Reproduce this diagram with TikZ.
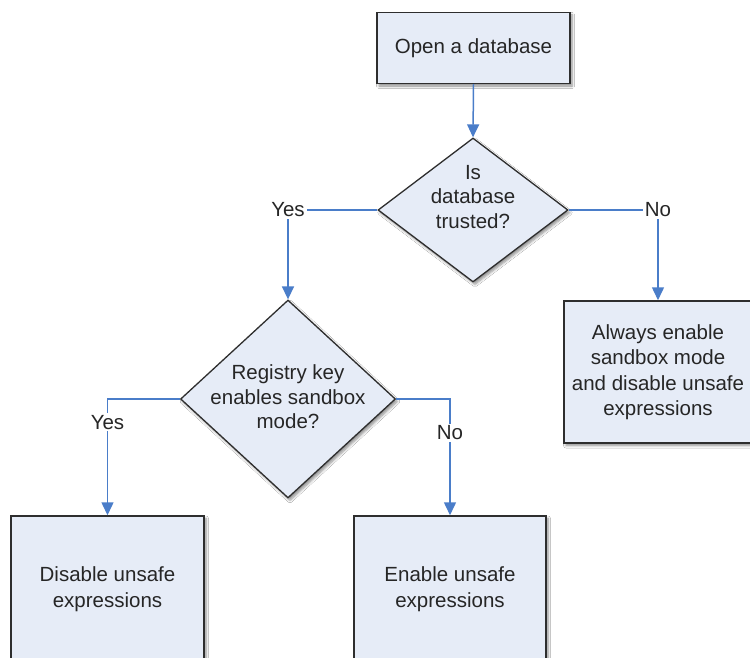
\documentclass[tikz,border=0pt]{standalone}
\usepackage{fontspec}
\setmainfont{Liberation Sans}
\usetikzlibrary{shapes.geometric,arrows.meta,shadows.blur}
\definecolor{boxfill}{HTML}{E6ECF7}
\definecolor{boxline}{HTML}{2E2E2E}
\definecolor{arrblue}{HTML}{4A7DC9}
\definecolor{txt}{HTML}{262626}
\tikzset{
  shade/.style={blur shadow={shadow xshift=2pt,shadow yshift=-2.5pt,shadow blur steps=6,shadow blur radius=2.5pt,shadow opacity=45}},
  procbox/.style={draw=boxline,line width=1.5pt,fill=boxfill,shade,inner sep=0pt,align=center,text=txt,
    font=\fontsize{20.5}{25.5}\selectfont},
  decision/.style={diamond,draw=boxline,line width=1.3pt,fill=boxfill,shade,inner sep=0pt},
  dtext/.style={align=center,text=txt,font=\fontsize{20.5}{24.5}\selectfont,inner sep=0pt},
  conn/.style={draw=arrblue,line width=1.5pt,-{Triangle[width=12pt,length=13pt]}},
  lbl/.style={fill=white,inner sep=2pt,text=txt,font=\fontsize{20.5}{24.5}\selectfont}
}
\begin{document}
\begin{tikzpicture}[x=1pt,y=-1pt]
\clip (0,0) rectangle (750,658);
\fill[white] (0,0) rectangle (750,658);
% nodes
\node[procbox,minimum width=193pt,minimum height=71pt] (b1) at (473.5,48) {Open a database};
\node[decision,minimum width=190pt,minimum height=144pt] (d1) at (473,210) {};
\node[dtext] (d1t) at (473,197) {Is\\database\\trusted?};
\node[decision,minimum width=215pt,minimum height=198pt] (d2) at (288,399) {};
\node[dtext] (d2t) at (288,397) {Registry key\\enables sandbox\\mode?};
\node[procbox,minimum width=188pt,minimum height=142pt] (b3) at (658,372) {Always enable\\sandbox mode\\and disable unsafe\\expressions};
\node[procbox,minimum width=193pt,minimum height=146pt] (b4) at (107.5,589) {Disable unsafe\\expressions};
\node[procbox,minimum width=192pt,minimum height=146pt] (b5) at (450,589) {Enable unsafe\\expressions};
% connectors
\draw[conn] (b1.south) -- (d1.north);
\draw[conn] (d1.west) -| (d2.north) node[lbl,pos=0.5] {Yes};
\draw[conn] (d1.east) -| (b3.north) node[lbl,pos=0.5] {No};
\draw[conn] (d2.west) -| (b4.north) node[lbl,pos=0.6] {Yes};
\draw[conn] (d2.east) -| (b5.north) node[lbl,pos=0.645] {No};
\end{tikzpicture}
\end{document}
